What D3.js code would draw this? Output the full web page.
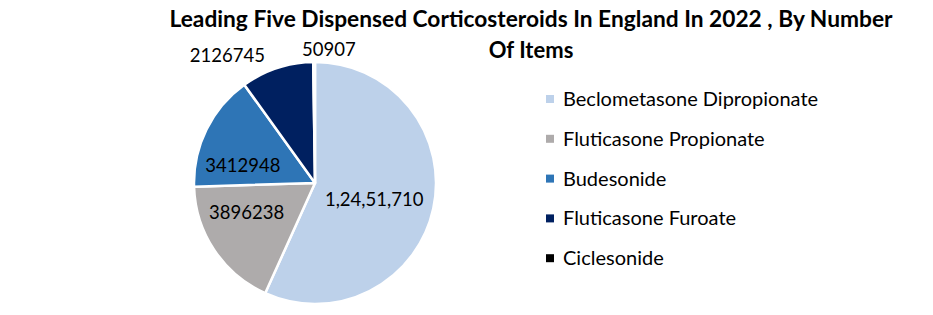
<!DOCTYPE html>
<html>
<head>
<meta charset="utf-8">
<script src="https://d3js.org/d3.v7.min.js"></script>
<style>
  body { margin: 0; background: #fff; }
  text { font-family: Lato, "Open Sans", sans-serif; fill: #000; }
</style>
</head>
<body>
<svg id="chart" width="933" height="315"></svg>
<script>
// Data
const categories = ['Beclometasone Dipropionate', 'Fluticasone Propionate', 'Budesonide', 'Fluticasone Furoate', 'Ciclesonide'];
const values = [12451710, 3896238, 3412948, 2126745, 50907];
const labels = ['1,24,51,710', '3896238', '3412948', '2126745', '50907'];
const colors = ['#bdd1ea', '#aeabab', '#2e75b6', '#002060', '#000000'];
const titleLines = ['Leading Five Dispensed Corticosteroids In England  In 2022 , By Number', 'Of Items'];

const svg = d3.select('#chart');
const cx = 315, cy = 183, r = 121;

// Title
svg.append('g')
  .selectAll('text')
  .data(titleLines)
  .enter().append('text')
  .attr('x', 531)
  .attr('y', (d, i) => 27 + i * 31)
  .attr('text-anchor', 'middle')
  .attr('font-size', 22)
  .attr('font-weight', 'bold')
  .attr('textLength', (d, i) => i === 0 ? 723 : null)
  .attr('lengthAdjust', 'spacingAndGlyphs')
  .text(d => d);

// Pie
const data = categories.map((c, i) => ({ name: c, value: values[i], label: labels[i], color: colors[i] }));
const pie = d3.pie().value(d => d.value).sort(null);
const arcs = pie(data);
const arc = d3.arc().innerRadius(0).outerRadius(r);

const g = svg.append('g').attr('transform', `translate(${cx},${cy})`);
g.selectAll('path')
  .data(arcs)
  .enter().append('path')
  .attr('d', arc)
  .attr('fill', d => d.data.color)
  .attr('stroke', '#fff')
  .attr('stroke-width', 2.5)
  .attr('stroke-linejoin', 'round');

// Data labels: big slices inside, small slices outside
const mainArc = d3.arc().innerRadius(r * 0.5).outerRadius(r * 0.5);
const innerArc = d3.arc().innerRadius(r * 0.6).outerRadius(r * 0.6);
const outerArc = d3.arc().innerRadius(r * 1.16).outerRadius(r * 1.16);
const isBig = d => (d.endAngle - d.startAngle) > 0.8;
const isTiny = d => (d.endAngle - d.startAngle) < 0.05;
const labelDx = [0, -8, -7, -6, -12];
const labelDy = [4, -11, 15, 6, 7];

g.selectAll('text')
  .data(arcs)
  .enter().append('text')
  .attr('font-size', 18.5)
  .attr('transform', d => {
    const p = d.index === 0 ? mainArc.centroid(d) : isBig(d) ? innerArc.centroid(d) : outerArc.centroid(d);
    return `translate(${p[0] + labelDx[d.index]},${p[1] + labelDy[d.index]})`;
  })
  .attr('dy', '0.35em')
  .attr('text-anchor', d => isBig(d) ? 'middle' : isTiny(d) ? 'start' : 'end')
  .text(d => d.data.label);

// Legend
const legend = svg.append('g').attr('transform', 'translate(546,99)');
const rows = legend.selectAll('g')
  .data(data)
  .enter().append('g')
  .attr('transform', (d, i) => `translate(0,${i * 39.8})`);
rows.append('rect')
  .attr('x', 0).attr('y', -4)
  .attr('width', 8).attr('height', 8)
  .attr('fill', d => d.color);
rows.append('text')
  .attr('x', 17)
  .attr('dy', '0.35em')
  .attr('font-size', 20)
  .text(d => d.name);
</script>
</body>
</html>
